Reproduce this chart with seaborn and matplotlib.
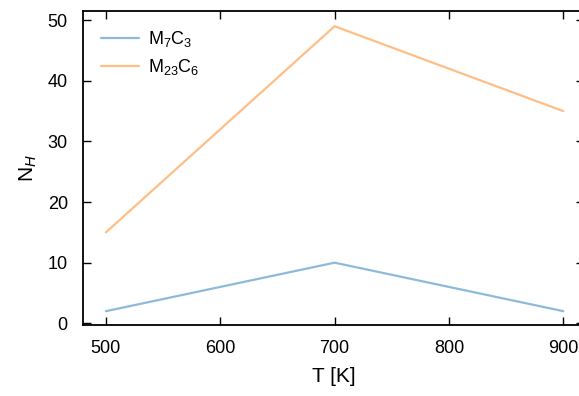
import seaborn as sns
import matplotlib.pyplot as plt
import pandas as pd

# dados
temperatura = [500, 700, 900]
m7c3 = [2, 10, 2]
m23c6 = [15, 49, 35]
rotulos = ['M$_7$C$_3$', 'M$_{23}$C$_6$']

df = pd.DataFrame({
    'T': temperatura * 2,
    'N': m7c3 + m23c6,
    'fase': [rotulos[0]] * 3 + [rotulos[1]] * 3,
})

sns.set_style('ticks')
plt.rcParams['font.family'] = ['Liberation Sans', 'DejaVu Sans']
plt.rcParams['mathtext.fontset'] = 'custom'
plt.rcParams['mathtext.rm'] = 'Liberation Sans'
plt.rcParams['mathtext.it'] = 'Liberation Sans:italic'
plt.rcParams['mathtext.default'] = 'regular'
plt.rcParams['text.color'] = 'black'
plt.rcParams['axes.labelcolor'] = 'black'
plt.rcParams['xtick.color'] = 'black'
plt.rcParams['ytick.color'] = 'black'

fig = plt.figure(figsize=(5.79, 3.96), dpi=100)
ax = fig.add_axes([0.1434, 0.179, 0.865, 0.793])

sns.lineplot(data=df, x='T', y='N', hue='fase', palette=['tab:blue', 'tab:orange'],
             alpha=0.5, linewidth=1.6, ax=ax)

ax.set_xlim(480, 918)
ax.set_ylim(-0.3, 51.5)
ax.set_xticks([500, 600, 700, 800, 900])
ax.set_yticks([0, 10, 20, 30, 40, 50])
ax.set_xlabel('T [K]', fontsize=15, labelpad=7)
ax.set_ylabel('N$_{\\mathit{H}}$', fontsize=15, labelpad=6)
ax.tick_params(direction='in', length=6, width=1, labelsize=13,
               top=True, right=True, pad=11)
for s in ax.spines.values():
    s.set_linewidth(1.3)
    s.set_color('black')

leg = ax.legend(frameon=False, loc='upper left', fontsize=13, handlelength=2.1,
                handletextpad=0.5, borderaxespad=0.6, labelspacing=0.45)

fig.savefig('out.png', dpi=100)
